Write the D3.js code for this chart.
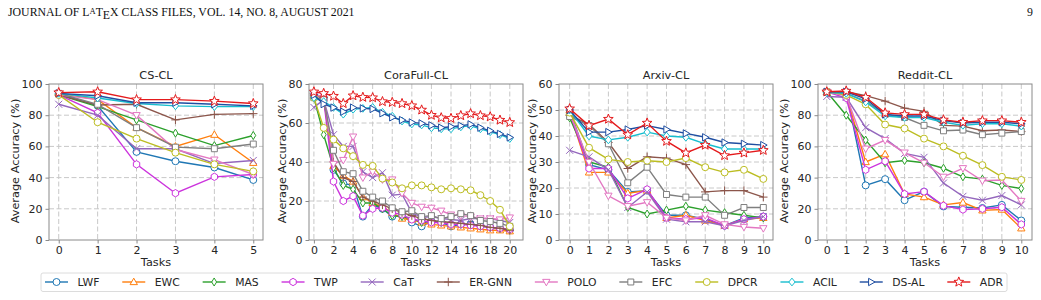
<!DOCTYPE html>
<html>
<head>
<meta charset="utf-8">
<script src="https://cdn.jsdelivr.net/npm/d3@7"></script>
<style>
  body { margin: 0; background: #fff; }
  svg { display: block; font-family: "DejaVu Sans", sans-serif; }
</style>
</head>
<body>
<svg id="chart" width="1041" height="300"></svg>
<script>
// methods, in legend order
const methods = ["LWF", "EWC", "MAS", "TWP", "CaT", "ER-GNN", "POLO", "EFC", "DPCR", "ACIL", "DS-AL", "ADR"];

const csTasks = [0, 1, 2, 3, 4, 5];
const coraTasks = [0, 1, 2, 3, 4, 5, 6, 7, 8, 9, 10, 11, 12, 13, 14, 15, 16, 17, 18, 19, 20];
const arxivTasks = [0, 1, 2, 3, 4, 5, 6, 7, 8, 9, 10];
const redditTasks = [0, 1, 2, 3, 4, 5, 6, 7, 8, 9, 10];

// one row per method (same order as methods)
const csCL = [
  [94, 86, 56.5, 50.5, 46.5, 38.5],
  [94, 90, 72, 60, 67.5, 49.5],
  [93, 85.5, 77, 68.5, 60.5, 67],
  [93, 81.5, 48.5, 30, 40.5, 42],
  [87, 80, 58.5, 58.5, 49, 51],
  [93, 86.5, 87, 77, 80.5, 81],
  [93, 90, 80, 58, 51.5, 42],
  [94, 87, 72, 59.5, 58.5, 61.5],
  [93, 75.5, 65, 56, 48.5, 44],
  [94, 91, 87.5, 86, 85.5, 85.5],
  [94, 92.5, 88, 88, 87, 86],
  [94.5, 95, 90, 90, 89, 87.5]
];

const coraCL = [
  [74, 73, 36, 29, 28, 12, 18, 16, 12, 12.5, 9, 7, 9.5, 9, 7, 8, 8, 7.5, 6.5, 6, 5],
  [74, 73, 38, 33, 30, 22, 19, 17, 14, 11, 10.5, 9, 8, 7.5, 7, 6.5, 6, 5.5, 5, 5, 4.5],
  [73, 54, 37, 28, 26, 19, 19, 16, 12.5, 12, 11, 9, 9.5, 9, 8, 8, 8, 7, 6.5, 6, 5.5],
  [73, 72, 30, 20, 22.5, 12.5, 16, 16.5, 14, 13, 10.5, 10, 9, 9, 8, 8, 7.5, 7, 6.5, 6, 5.5],
  [68, 72, 54, 48, 48, 35, 32, 34.5, 23, 23.5, 14, 11.5, 12, 11, 10.5, 10, 11, 11, 11, 10, 9],
  [75, 73, 40, 32, 30, 22, 20, 18, 16, 14, 12.5, 11, 10, 9.5, 9, 8.5, 8, 7.5, 6.5, 6, 5],
  [74, 74, 39, 41, 53, 32, 35, 31, 31, 24, 19, 17, 16.5, 15, 13, 12.5, 12, 11, 11, 10.5, 11.5],
  [73, 72, 46, 35, 34, 25, 22, 20, 16.5, 14.5, 15, 12, 12.5, 11, 12, 13.5, 12.5, 10, 9.5, 8.5, 7],
  [73, 57.5, 51.5, 47, 43, 38.5, 38, 31.5, 29.5, 26.5, 28, 28, 27, 26, 26.5, 26, 25.5, 23, 20, 15.5, 7],
  [73, 71, 68, 64.5, 67, 67.5, 68, 65.5, 63.5, 61, 59.5, 59, 57.5, 57, 57, 58, 58.5, 57, 55.5, 54, 52],
  [74.4, 69.7, 67.9, 65.8, 67.9, 67.5, 67.2, 65, 62.9, 61.5, 60.3, 59.8, 58.8, 57.6, 58.1, 58.6, 59.3, 57.6, 56, 54.4, 52.6],
  [76, 75.2, 73.8, 70, 74, 73.2, 73, 71, 70.6, 70, 68.9, 66.7, 64, 62.7, 62.4, 63.8, 64.8, 63.8, 63.2, 61.5, 60.3]
];

const arxivCL = [
  [50, 29, 27, 18.5, 19, 9.5, 9.5, 8, 5.5, 8.5, 9],
  [49, 26, 26, 18, 19, 8.5, 9.5, 7.5, 5.5, 8, 8.5],
  [47, 30, 28, 12.5, 10, 11.5, 13, 11.5, 10.5, 9.5, 8.5],
  [49, 27.5, 27.5, 16, 19.5, 8.5, 8, 8.5, 5.5, 8, 9],
  [34.5, 32, 27, 12.5, 18.5, 8, 7, 7, 5.5, 7.5, 9],
  [48, 44.5, 37.5, 27.5, 32, 31.5, 29, 18.5, 19, 19, 16.5],
  [49, 30, 17, 13, 14.5, 8.5, 7.5, 9.5, 6, 5, 4.5],
  [47.5, 44, 37, 22, 28, 17.5, 16.5, 16.5, 9.5, 12.5, 12.5],
  [49, 35.5, 31, 30, 30.5, 30, 31.5, 28, 26, 27, 23.5],
  [50, 40, 38.5, 39.5, 41.5, 40, 39.5, 37, 35, 35, 35],
  [50, 41.5, 41.5, 42.5, 44, 42.5, 41, 39.5, 37.5, 37, 36.5],
  [50.5, 44, 46.5, 40.5, 45, 38, 33.5, 36.5, 32.5, 33.5, 34.5]
];

const redditCL = [
  [95, 95, 35, 39, 25.5, 31, 21.5, 21, 20.5, 22.5, 12.5],
  [95, 93, 50, 55, 29.5, 27.5, 22.5, 24, 19, 19.5, 7.5],
  [95, 80, 64, 49.5, 51, 49.5, 46, 40.5, 39, 35, 33],
  [95, 91, 45, 50.5, 29.5, 31, 22, 19.5, 20, 21, 10],
  [92, 91.5, 72, 65, 55.5, 53, 36.5, 28, 25.5, 28.5, 22.5],
  [95, 95, 92.5, 89, 84.5, 82.5, 73.5, 73, 70, 70.5, 69.5],
  [95, 92.5, 58.5, 64, 56, 49.5, 40.5, 46, 38, 38.5, 25],
  [95, 94, 89, 80.5, 78.5, 73.5, 70, 70.5, 67.5, 68.5, 69.5],
  [95, 93, 87, 74, 71.5, 65, 60, 54, 48, 40.5, 38.5],
  [94.5, 94, 88.5, 79.5, 78.5, 78.5, 75.5, 73.5, 74.5, 74.5, 73],
  [95, 95, 90.5, 80.5, 79.5, 79.5, 76.5, 75, 75.5, 75.5, 74.5],
  [95, 95.5, 91.5, 81.5, 80.5, 80.5, 77, 75.5, 76.5, 76.5, 75.5]
];

const csYTicks = [0, 20, 40, 60, 80, 100];
const coraYTicks = [0, 20, 40, 60, 80];
const arxivYTicks = [0, 10, 20, 30, 40, 50, 60];
const redditYTicks = [0, 20, 40, 60, 80, 100];
const coraXTicks = [0, 2, 4, 6, 8, 10, 12, 14, 16, 18, 20];

// styles
const colors = ["#1f77b4", "#ff7f0e", "#2ca02c", "#cc33dd", "#9467bd", "#8c564b",
                "#e377c2", "#7f7f7f", "#bcbd22", "#17becf", "#1f4ea1", "#e41a1c"];
const shapes = ["o", "^", "d", "h", "x", "+", "v", "s", "o", "D", ">", "*"];

const markerPath = (shape, r) => {
  const poly = pts => "M" + pts.map(p => p[0].toFixed(2) + "," + p[1].toFixed(2)).join("L") + "Z";
  switch (shape) {
    case "o": return `M${r},0A${r},${r} 0 1 1 ${-r},0A${r},${r} 0 1 1 ${r},0Z`;
    case "^": return poly([[0, -r * 1.1], [r * 1.05, r * 0.75], [-r * 1.05, r * 0.75]]);
    case "v": return poly([[0, r * 1.1], [r * 1.05, -r * 0.75], [-r * 1.05, -r * 0.75]]);
    case ">": return poly([[r * 1.1, 0], [-r * 0.75, r * 1.05], [-r * 0.75, -r * 1.05]]);
    case "d": return poly([[0, -r * 1.15], [r * 0.7, 0], [0, r * 1.15], [-r * 0.7, 0]]);
    case "D": return poly([[0, -r * 1.1], [r * 0.9, 0], [0, r * 1.1], [-r * 0.9, 0]]);
    case "s": return poly([[-r * 0.85, -r * 0.85], [r * 0.85, -r * 0.85], [r * 0.85, r * 0.85], [-r * 0.85, r * 0.85]]);
    case "h": return poly(d3.range(6).map(i => {
      const a = -Math.PI / 2 + i * Math.PI / 3;
      return [r * 1.05 * Math.cos(a), r * 1.05 * Math.sin(a)];
    }));
    case "*": return poly(d3.range(10).map(i => {
      const a = -Math.PI / 2 + i * Math.PI / 5;
      const rr = i % 2 === 0 ? r * 1.45 : r * 0.62;
      return [rr * Math.cos(a), rr * Math.sin(a)];
    }));
    case "x": return `M${-r},${-r}L${r},${r}M${-r},${r}L${r},${-r}`;
    case "+": return `M${-r * 1.2},0L${r * 1.2},0M0,${-r * 1.2}L0,${r * 1.2}`;
  }
};

const svg = d3.select("#chart");
svg.append("rect").attr("width", 1041).attr("height", 300).attr("fill", "#fff");

// page header
const header = svg.append("text")
  .attr("x", 8).attr("y", 16)
  .attr("font-family", "'Liberation Serif', serif")
  .attr("font-size", 11.8)
  .attr("fill", "#111");
header.append("tspan").text("JOURNAL OF L");
header.append("tspan").attr("dy", -2.2).attr("font-size", 8.5).text("A");
header.append("tspan").attr("dy", 2.2).text("T");
header.append("tspan").attr("dy", 2.5).text("E");
header.append("tspan").attr("dy", -2.5).text("X CLASS FILES, VOL. 14, NO. 8, AUGUST 2021");
svg.append("text")
  .attr("x", 1033).attr("y", 16)
  .attr("text-anchor", "end")
  .attr("font-family", "'Liberation Serif', serif")
  .attr("font-size", 11.8)
  .attr("fill", "#111")
  .text("9");

const panels = [
  { title: "CS-CL", left: 49, xDomain: [-0.25, 5.25], tasks: csTasks, xTicks: csTasks, yTicks: csYTicks, data: csCL },
  { title: "CoraFull-CL", left: 309, xDomain: [-0.5, 21.35], tasks: coraTasks, xTicks: coraXTicks, yTicks: coraYTicks, data: coraCL },
  { title: "Arxiv-CL", left: 559, xDomain: [-0.55, 10.5], tasks: arxivTasks, xTicks: arxivTasks, yTicks: arxivYTicks, data: arxivCL },
  { title: "Reddit-CL", left: 818, xDomain: [-0.45, 10.55], tasks: redditTasks, xTicks: redditTasks, yTicks: redditYTicks, data: redditCL }
];

const plotTop = 84, plotBottom = 240, plotWidth = 214;
const r = 3.5;

panels.forEach(p => {
  const x = d3.scaleLinear().domain(p.xDomain).range([p.left, p.left + plotWidth]);
  const y = d3.scaleLinear().domain([0, d3.max(p.yTicks)]).range([plotBottom, plotTop]);
  const g = svg.append("g");

  // grid
  g.append("g").selectAll("line").data(p.xTicks).join("line")
    .attr("x1", d => x(d)).attr("x2", d => x(d))
    .attr("y1", plotTop).attr("y2", plotBottom)
    .attr("stroke", "#c8c8c8").attr("stroke-dasharray", "5,2.5").attr("stroke-width", 1);
  g.append("g").selectAll("line").data(p.yTicks.slice(1, -1)).join("line")
    .attr("x1", p.left).attr("x2", p.left + plotWidth)
    .attr("y1", d => y(d)).attr("y2", d => y(d))
    .attr("stroke", "#c8c8c8").attr("stroke-dasharray", "5,2.5").attr("stroke-width", 1);

  // series
  p.data.forEach((vals, i) => {
    const pts = p.tasks.map((t, k) => [t, vals[k]]);
    g.append("path")
      .datum(pts)
      .attr("fill", "none")
      .attr("stroke", colors[i])
      .attr("stroke-width", 1.4)
      .attr("d", d3.line().x(d => x(d[0])).y(d => y(d[1])));
    const open = shapes[i] !== "x" && shapes[i] !== "+";
    g.append("g").selectAll("path").data(pts).join("path")
      .attr("transform", d => `translate(${x(d[0])},${y(d[1])})`)
      .attr("d", markerPath(shapes[i], r))
      .attr("fill", open ? "#fff" : "none")
      .attr("stroke", colors[i])
      .attr("stroke-width", 1);
  });

  // frame
  g.append("rect")
    .attr("x", p.left).attr("y", plotTop)
    .attr("width", plotWidth).attr("height", plotBottom - plotTop)
    .attr("fill", "none").attr("stroke", "#8a8a8a").attr("stroke-width", 1);

  // axes
  const xAxis = g.append("g")
    .attr("transform", `translate(0,${plotBottom})`)
    .call(d3.axisBottom(x).tickValues(p.xTicks).tickFormat(d3.format("d")).tickSize(3.5).tickPadding(3));
  const yAxis = g.append("g")
    .attr("transform", `translate(${p.left},0)`)
    .call(d3.axisLeft(y).tickValues(p.yTicks).tickFormat(d3.format("d")).tickSize(3.5).tickPadding(3));
  [xAxis, yAxis].forEach(a => {
    a.select(".domain").remove();
    a.selectAll("line").attr("stroke", "#8a8a8a");
    a.selectAll("text").attr("font-size", 11).attr("fill", "#262626").attr("font-family", "DejaVu Sans");
  });

  const maxW = d3.max(yAxis.selectAll("text").nodes(), n => n.getComputedTextLength());

  g.append("text")
    .attr("x", p.left + plotWidth / 2).attr("y", 79)
    .attr("text-anchor", "middle")
    .attr("font-size", 11.3).attr("fill", "#262626")
    .text(p.title);
  g.append("text")
    .attr("x", p.left + plotWidth / 2).attr("y", 266)
    .attr("text-anchor", "middle")
    .attr("font-size", 11.3).attr("fill", "#262626")
    .text("Tasks");
  g.append("text")
    .attr("transform", `translate(${p.left - 6.5 - maxW - 3},${(plotTop + plotBottom) / 2 - 1}) rotate(-90)`)
    .attr("text-anchor", "middle")
    .attr("font-size", 11.3).attr("fill", "#262626")
    .text("Average Accuracy (%)");
});

// legend
const legend = svg.append("g");
legend.append("rect")
  .attr("x", 41).attr("y", 273).attr("width", 966).attr("height", 18.5)
  .attr("rx", 2).attr("fill", "#fff").attr("stroke", "#dcdcdc").attr("stroke-width", 1);

const handleLen = 23, handlePad = 9.5;
const items = legend.selectAll("g.item").data(methods).join("g").attr("class", "item");
items.append("text")
  .attr("font-size", 10.8).attr("fill", "#262626")
  .attr("y", 286)
  .text(d => d);
const widths = items.select("text").nodes().map(n => n.getComputedTextLength());
const startX = 45, endX = 1003;
const gap = (endX - startX - d3.sum(widths) - methods.length * (handleLen + handlePad)) / (methods.length - 1);
let cx = startX;
items.each(function (d, i) {
  const it = d3.select(this);
  it.append("line")
    .attr("x1", cx).attr("x2", cx + handleLen)
    .attr("y1", 282).attr("y2", 282)
    .attr("stroke", colors[i]).attr("stroke-width", 1.4);
  const open = shapes[i] !== "x" && shapes[i] !== "+";
  it.append("path")
    .attr("transform", `translate(${cx + handleLen / 2},282)`)
    .attr("d", markerPath(shapes[i], r))
    .attr("fill", open ? "#fff" : "none")
    .attr("stroke", colors[i]).attr("stroke-width", 1);
  it.select("text").attr("x", cx + handleLen + handlePad);
  cx += handleLen + handlePad + widths[i] + gap;
});
</script>
</body>
</html>
